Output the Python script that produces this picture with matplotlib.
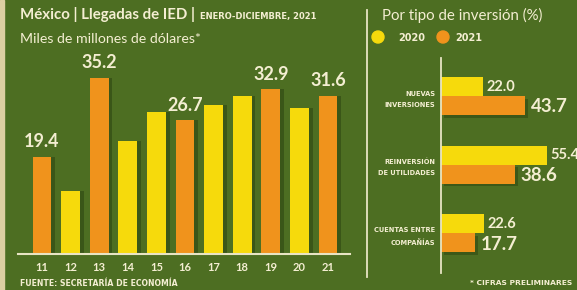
import numpy as np
import matplotlib.pyplot as plt
from matplotlib.patches import Rectangle, Ellipse

# --- datos ---
years = ["11", "12", "13", "14", "15", "16", "17", "18", "19", "20", "21"]
ied = [19.4, 12.7, 35.2, 22.6, 28.4, 26.7, 29.8, 31.6, 32.9, 29.2, 31.6]
labeled = [True, False, True, False, False, True, False, False, True, False, True]

tipos = ["NUEVAS\nINVERSIONES", "REINVERSIÓN\nDE UTILIDADES", "CUENTAS ENTRE\nCOMPAÑÍAS"]
pct_2020 = [22.0, 55.4, 22.6]
pct_2021 = [43.7, 38.6, 17.7]

# --- estilo ---
BG = "#4d6e22"
CREAM = "#f4eed2"
ORANGE = "#f0931c"
YELLOW = "#f6da0c"
SHADOW = "#2c4410"
STRIP = "#dccfa2"
FONT = "Lato"
SMALL = "DejaVu Sans"

W, H = 577, 290
fig = plt.figure(figsize=(W / 100, H / 100), dpi=100, facecolor=BG)


def px(x0, y0, x1, y1):
    # caja en pixeles (origen arriba a la izquierda) -> fraccion de figura
    return [x0 / W, 1 - y1 / H, (x1 - x0) / W, (y1 - y0) / H]


# franja clara a la izquierda
fig.patches.append(Rectangle((0, 0), 4 / W, 1, transform=fig.transFigure,
                             color=STRIP, zorder=0))

# --- barras por año ---
ax = fig.add_axes(px(18, 50, 350, 254))
ax.set_facecolor("none")
x = np.arange(len(years))
colors = [ORANGE if l else YELLOW for l in labeled]
ax.bar(x + 0.13, ied, width=0.66, color=SHADOW, alpha=0.55, zorder=1)
ax.bar(x, ied, width=0.66, color=colors, zorder=2)
for xi, v, l in zip(x, ied, labeled):
    if l:
        ax.annotate(f"{v:.1f}", (xi, v), xytext=(0, 5), textcoords="offset points",
                    ha="center", va="bottom", fontsize=13, fontweight="bold",
                    color=CREAM, family=FONT)
ax.set_xlim(-0.84, 10.77)
ax.set_ylim(0, 40.8)
ax.set_xticks(x)
ax.set_xticklabels(years, fontsize=8, fontweight="bold", color=CREAM, family=FONT)
ax.tick_params(axis="x", length=0, pad=6)
ax.set_yticks([])
for s in ["top", "right", "left"]:
    ax.spines[s].set_visible(False)
ax.spines["bottom"].set_color("#e8e4c4")
ax.spines["bottom"].set_linewidth(1.5)

# --- barras horizontales por tipo ---
bx = fig.add_axes(px(441, 58, 577, 273))
bx.set_facecolor("none")
y = np.arange(len(tipos))
h = 0.277
bx.barh(y - h / 2, pct_2020, height=h, color=YELLOW, zorder=2)
bx.barh(y + h / 2, pct_2021, height=h, color=ORANGE, zorder=2)
bx.barh(y + h / 2 + 0.04, pct_2021, height=h, left=1.5, color=SHADOW, alpha=0.5, zorder=1)
for yi, v in zip(y, pct_2020):
    bx.annotate(f"{v:.1f}", (v, yi - h / 2), xytext=(2, 0), textcoords="offset points",
                ha="left", va="center", fontsize=10.5, fontweight="bold",
                color=CREAM, family=FONT, annotation_clip=False)
for yi, v in zip(y, pct_2021):
    bx.annotate(f"{v:.1f}", (v, yi + h / 2), xytext=(4, -1), textcoords="offset points",
                ha="left", va="center", fontsize=13.5, fontweight="bold",
                color=CREAM, family=FONT, annotation_clip=False)
bx.set_xlim(0, 70.8)
bx.set_ylim(2.58, -0.555)
bx.set_yticks(y)
bx.set_yticklabels(tipos, fontsize=5.3, fontweight="bold", color=CREAM,
                   family=SMALL, fontstretch="condensed", linespacing=2.0)
bx.tick_params(axis="y", length=0, pad=4)
bx.set_xticks([])
for s in ["top", "right", "bottom"]:
    bx.spines[s].set_visible(False)
bx.spines["left"].set_color("#e8e4c4")
bx.spines["left"].set_linewidth(1.3)

# separador vertical
fig.add_artist(plt.Line2D([367 / W, 367 / W], [1 - 10 / H, 1 - 277 / H],
                          transform=fig.transFigure, color="#e8e4c4", lw=1.3))

# --- textos ---
def ftext(xp, yp, s, family=FONT, **kw):
    return fig.text(xp / W, 1 - yp / H, s, color=CREAM, family=family, va="center", **kw)


fig.canvas.draw()
r = fig.canvas.get_renderer()
t1 = ftext(20, 15, "México | Llegadas de IED | ", fontsize=10.8, fontweight="bold")
x_end = t1.get_window_extent(r).x1
ftext(x_end + 1, 16, "ENERO-DICIEMBRE, 2021", family=SMALL, fontsize=6.0,
      fontweight="bold")
ftext(20, 39, "Miles de millones de dólares*", fontsize=10.2)

ftext(382, 15, "Por tipo de inversión (%)", fontsize=10.8)
fig.patches.append(Ellipse((378 / W, 1 - 37 / H), 12 / W, 12 / H, transform=fig.transFigure,
                           color=YELLOW))
ftext(398, 38, "2020", family=SMALL, fontsize=7, fontweight="bold")
fig.patches.append(Ellipse((443 / W, 1 - 37 / H), 12 / W, 12 / H, transform=fig.transFigure,
                           color=ORANGE))
ftext(455, 38, "2021", family=SMALL, fontsize=7, fontweight="bold")

ftext(20, 284, "FUENTE: SECRETARÍA DE ECONOMÍA", family=SMALL, fontsize=5.6,
      fontweight="bold")
ftext(470, 283, "* CIFRAS PRELIMINARES", family=SMALL, fontsize=5.4, fontweight="bold")

fig.savefig("out.png", dpi=100, facecolor=BG)
